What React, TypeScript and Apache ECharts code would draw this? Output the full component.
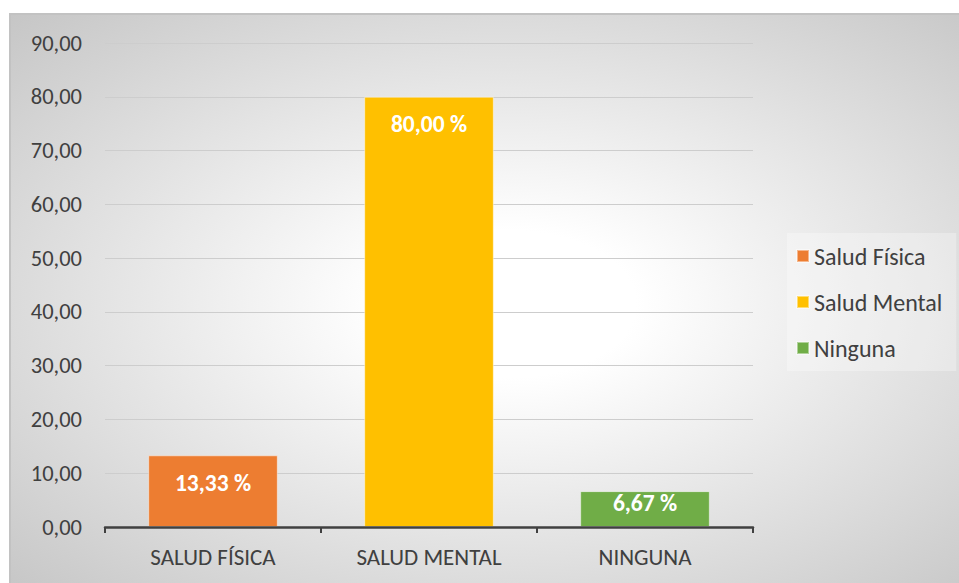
import React, { useEffect, useRef } from "react";
import * as echarts from "echarts";

const categories = ["SALUD FÍSICA", "SALUD MENTAL", "NINGUNA"];
const seriesNames = ["Salud Física", "Salud Mental", "Ninguna"];
const seriesValues = [13.33, 80.0, 6.67];
const seriesColors = ["#ED7D31", "#FFC000", "#70AD47"];
const labelDistances = [16, 15, 0];

const fmt = (v: number) => v.toFixed(2).replace(".", ",");
const FONT = "Carlito, Lato, 'Open Sans', sans-serif";

export default function App() {
  const ref = useRef<HTMLDivElement>(null);
  useEffect(() => {
    if (!ref.current) return;
    const chart = echarts.init(ref.current, undefined, { renderer: "svg" });
    const series = seriesNames.map((name, i) => ({
      name,
      type: "bar",
      stack: "total",
      barWidth: "60%",
      itemStyle: {
        color: seriesColors[i],
        borderColor: "rgba(255,255,255,0.45)",
        borderWidth: 1,
      },
      label: {
        show: true,
        position: "insideTop",
        distance: labelDistances[i],
        color: "#ffffff",
        fontWeight: "bold",
        fontSize: 23.5,
        fontFamily: FONT,
        formatter: (p: any) => fmt(p.value) + " %",
      },
      data: categories.map((_, j) => (j === i ? seriesValues[i] : "-")),
    }));
    chart.setOption({
      animation: false,
      backgroundColor: "transparent",
      grid: { left: 105, right: 206, top: 43, bottom: 56, containLabel: false },
      legend: {
        orient: "vertical",
        left: 787,
        top: 233,
        padding: [11, 14, 11, 9],
        backgroundColor: "rgba(255,255,255,0.3)",
        itemWidth: 12,
        itemHeight: 12,
        itemGap: 22,
        icon: "rect",
        data: seriesNames,
        textStyle: {
          color: "#404040",
          fontSize: 24,
          lineHeight: 24,
          fontFamily: FONT,
        },
      },
      xAxis: {
        type: "category",
        data: categories,
        axisLine: { lineStyle: { color: "#404040", width: 2.5 } },
        axisTick: { show: true, length: 6, lineStyle: { color: "#404040", width: 2 } },
        axisLabel: {
          color: "#404040",
          fontSize: 23,
          fontFamily: FONT,
          margin: 18,
        },
        z: 10,
      },
      yAxis: {
        type: "value",
        min: 0,
        max: 90,
        interval: 10,
        axisLine: { show: false },
        axisTick: { show: false },
        splitLine: { lineStyle: { color: "#cdcdcd", width: 1 } },
        axisLabel: {
          color: "#404040",
          fontSize: 22.5,
          fontFamily: FONT,
          margin: 23,
          formatter: (v: number) => fmt(v),
        },
      },
      series,
    });
    return () => chart.dispose();
  }, []);

  return (
    <div
      style={{
        position: "fixed",
        left: 0,
        top: 0,
        width: 959,
        height: 583,
        background: "#ffffff",
        overflow: "hidden",
      }}
    >
      <div
        style={{
          position: "absolute",
          left: 9,
          top: 13,
          width: 960,
          height: 580,
          boxSizing: "border-box",
          borderTop: "2px solid #c2c2c2",
          borderLeft: "2px solid #c2c2c2",
          background:
            "radial-gradient(ellipse farthest-corner at 52% 50%, #ffffff 0%, #ffffff 18%, #c6c6c6 100%)",
        }}
      />
      <div
        ref={ref}
        style={{ position: "absolute", left: 0, top: 0, width: 959, height: 583 }}
      />
    </div>
  );
}
